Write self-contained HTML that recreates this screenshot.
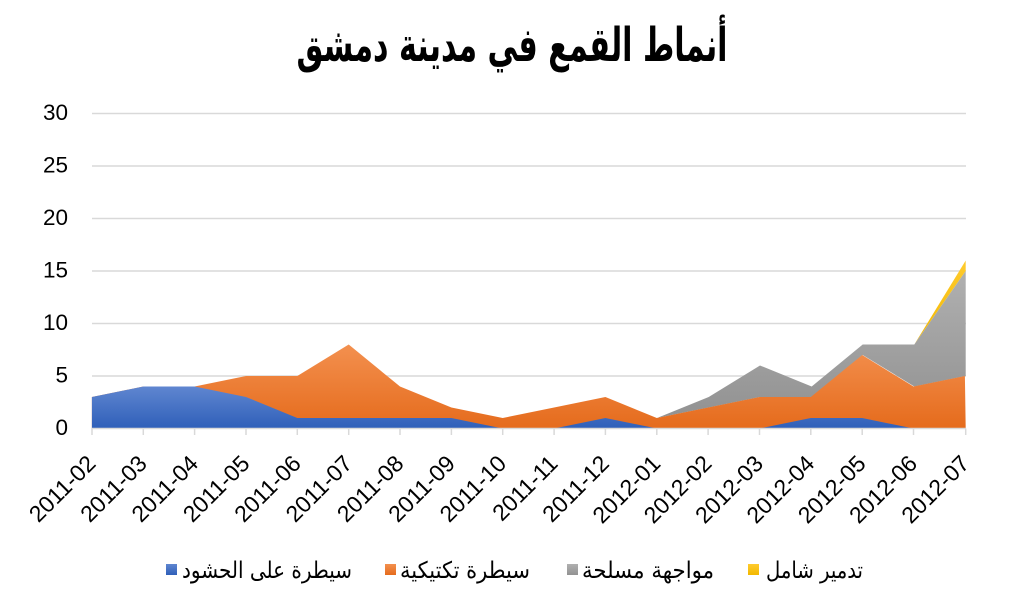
<!DOCTYPE html>
<html><head><meta charset="utf-8"><style>
html,body{margin:0;padding:0;background:#fff;}
svg{display:block;}
</style></head><body>
<svg width="1024" height="614" viewBox="0 0 1024 614" xmlns="http://www.w3.org/2000/svg">
<defs>
<linearGradient id="gB" x1="0" y1="0" x2="0" y2="1"><stop offset="0" stop-color="#5f86d0"/><stop offset="1" stop-color="#2f5fb9"/></linearGradient>
<linearGradient id="gO" x1="0" y1="0" x2="0" y2="1"><stop offset="0" stop-color="#f3904f"/><stop offset="1" stop-color="#e56b1c"/></linearGradient>
<linearGradient id="gG" x1="0" y1="0" x2="0" y2="1"><stop offset="0" stop-color="#b0b0b0"/><stop offset="1" stop-color="#929292"/></linearGradient>
<linearGradient id="gY" x1="0" y1="0" x2="0" y2="1"><stop offset="0" stop-color="#ffcb2e"/><stop offset="1" stop-color="#f2b800"/></linearGradient>
</defs>
<rect width="1024" height="614" fill="#fff"/>
<text x="512" y="61" text-anchor="middle" font-family="DejaVu Sans, sans-serif" font-weight="bold" font-size="47" textLength="431" lengthAdjust="spacingAndGlyphs" direction="rtl" fill="#000">أنماط القمع في مدينة دمشق</text>
<g stroke="#d9d9d9" stroke-width="1.5">
<line x1="92" y1="113.5" x2="966" y2="113.5"/>
<line x1="92" y1="166" x2="966" y2="166"/>
<line x1="92" y1="218.5" x2="966" y2="218.5"/>
<line x1="92" y1="271" x2="966" y2="271"/>
<line x1="92" y1="323.5" x2="966" y2="323.5"/>
<line x1="92" y1="376" x2="966" y2="376"/>
</g>
<g font-family="Liberation Sans, sans-serif" font-size="22.5" fill="#000" text-anchor="end">
<text x="68" y="120">30</text>
<text x="68" y="172.5">25</text>
<text x="68" y="225">20</text>
<text x="68" y="277.5">15</text>
<text x="68" y="330">10</text>
<text x="68" y="382.5">5</text>
<text x="68" y="435">0</text>
</g>
<!-- yellow -->
<polygon fill="url(#gY)" points="914.3,344.5 965.7,260.5 965.7,271 914.3,344.5"/>
<!-- gray (cum) -->
<polygon fill="url(#gG)" points="657,418 708.7,397 760,365.5 811.7,386.5 862.7,344.5 914.3,344.5 965.7,271 965.7,376 914.3,386.5 862.7,355 811.7,397 760,397 708.7,407.5 657,418"/>
<!-- orange (cum) -->
<polygon fill="url(#gO)" points="91.9,397 143.3,386.5 194.6,386.5 246,376 297.3,376 348.7,344.5 400,386.5 451.4,407.5 502.7,418 554.1,407.5 605.4,397 656.8,418 708.1,407.5 759.5,397 810.8,397 862.2,355 913.5,386.5 964.9,376 965.7,428.5 91.9,428.5"/>
<!-- blue -->
<polygon fill="url(#gB)" points="91.9,397 143.3,386.5 194.6,386.5 246,397 297.3,418 348.7,418 400,418 451.4,418 502.7,428.5 554.1,428.5 605.4,418 656.8,428.5 708.1,428.5 759.5,428.5 810.8,418 862.2,418 913.5,428.5 965.7,428.5 91.9,428.5"/>
<g stroke="#d9d9d9" stroke-width="1.5">
<line x1="92" y1="428.5" x2="966" y2="428.5"/>
<line x1="92" y1="428.5" x2="92" y2="435"/>
<line x1="143.3" y1="428.5" x2="143.3" y2="435"/>
<line x1="194.6" y1="428.5" x2="194.6" y2="435"/>
<line x1="246" y1="428.5" x2="246" y2="435"/>
<line x1="297.3" y1="428.5" x2="297.3" y2="435"/>
<line x1="348.7" y1="428.5" x2="348.7" y2="435"/>
<line x1="400" y1="428.5" x2="400" y2="435"/>
<line x1="451.4" y1="428.5" x2="451.4" y2="435"/>
<line x1="502.7" y1="428.5" x2="502.7" y2="435"/>
<line x1="554.1" y1="428.5" x2="554.1" y2="435"/>
<line x1="605.4" y1="428.5" x2="605.4" y2="435"/>
<line x1="656.8" y1="428.5" x2="656.8" y2="435"/>
<line x1="708.1" y1="428.5" x2="708.1" y2="435"/>
<line x1="759.5" y1="428.5" x2="759.5" y2="435"/>
<line x1="810.8" y1="428.5" x2="810.8" y2="435"/>
<line x1="862.2" y1="428.5" x2="862.2" y2="435"/>
<line x1="913.5" y1="428.5" x2="913.5" y2="435"/>
<line x1="965.7" y1="428.5" x2="965.7" y2="435"/>
</g>
<g font-family="Liberation Sans, sans-serif" font-size="23" fill="#000" text-anchor="end">
<text transform="translate(97,465) rotate(-45)">2011-02</text>
<text transform="translate(148.3,465) rotate(-45)">2011-03</text>
<text transform="translate(199.6,465) rotate(-45)">2011-04</text>
<text transform="translate(251,465) rotate(-45)">2011-05</text>
<text transform="translate(302.3,465) rotate(-45)">2011-06</text>
<text transform="translate(353.7,465) rotate(-45)">2011-07</text>
<text transform="translate(405,465) rotate(-45)">2011-08</text>
<text transform="translate(456.4,465) rotate(-45)">2011-09</text>
<text transform="translate(507.7,465) rotate(-45)">2011-10</text>
<text transform="translate(559.1,465) rotate(-45)">2011-11</text>
<text transform="translate(610.4,465) rotate(-45)">2011-12</text>
<text transform="translate(661.8,465) rotate(-45)">2012-01</text>
<text transform="translate(713.1,465) rotate(-45)">2012-02</text>
<text transform="translate(764.5,465) rotate(-45)">2012-03</text>
<text transform="translate(815.8,465) rotate(-45)">2012-04</text>
<text transform="translate(867.2,465) rotate(-45)">2012-05</text>
<text transform="translate(918.5,465) rotate(-45)">2012-06</text>
<text transform="translate(970.7,465) rotate(-45)">2012-07</text>
</g>
<!-- legend -->
<rect x="166" y="564" width="11" height="11" fill="url(#gB)"/>
<rect x="385" y="564" width="11" height="11" fill="url(#gO)"/>
<rect x="567" y="564" width="11" height="11" fill="url(#gG)"/>
<rect x="748" y="564" width="11" height="11" fill="url(#gY)"/>
<g font-family="DejaVu Sans, sans-serif" font-size="23" fill="#000" direction="rtl" text-anchor="start">
<text x="352" y="578" textLength="170" lengthAdjust="spacingAndGlyphs">سيطرة على الحشود</text>
<text x="530" y="578" textLength="130" lengthAdjust="spacingAndGlyphs">سيطرة تكتيكية</text>
<text x="714" y="578" textLength="132" lengthAdjust="spacingAndGlyphs">مواجهة مسلحة</text>
<text x="863" y="578" textLength="97" lengthAdjust="spacingAndGlyphs">تدمير شامل</text>
</g>
</svg>
</body></html>
